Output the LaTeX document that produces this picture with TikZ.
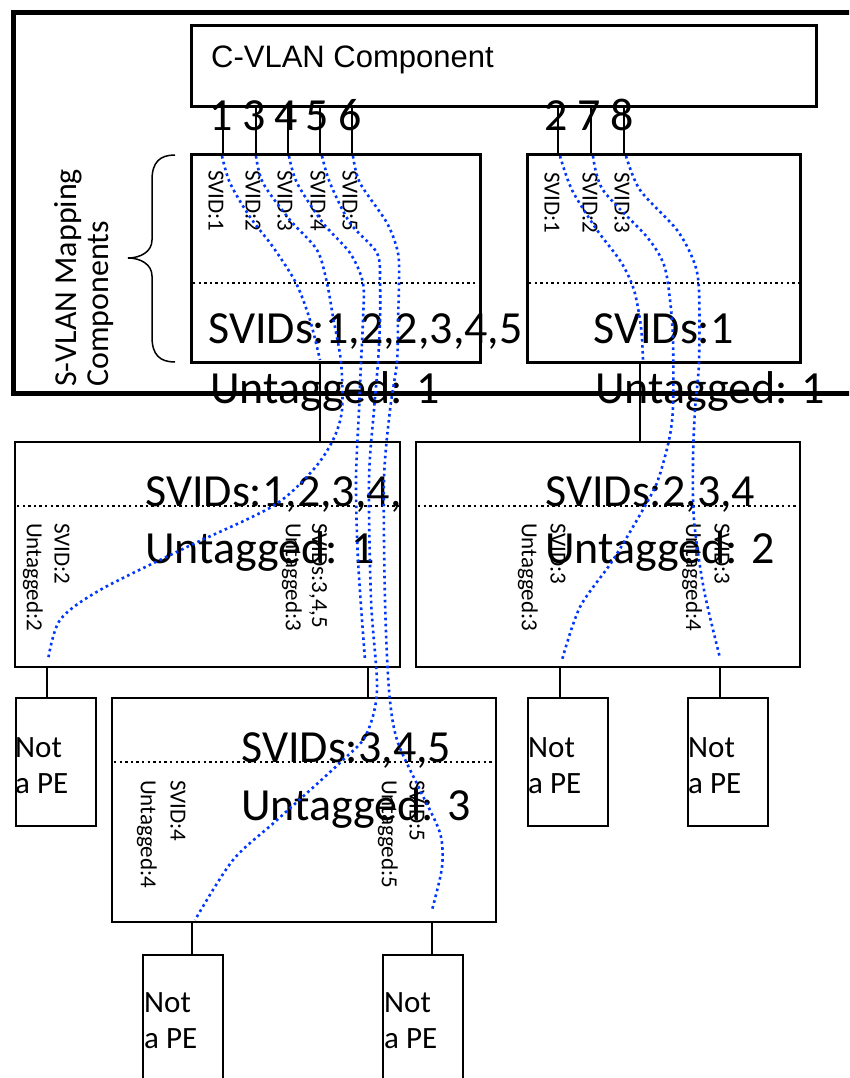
\documentclass[tikz,border=0pt]{standalone}
\usepackage{fontspec}
\setmainfont{Carlito}
\newfontfamily\arialf{Liberation Sans}
\definecolor{flowblue}{RGB}{0,55,255}
\begin{document}
\begin{tikzpicture}[x=1pt,y=-1pt,
  frame/.style={draw, rectangle, line width=#1, inner sep=0pt, outer sep=0pt},
  wire/.style={line width=2pt},
  sepline/.style={line width=2.4pt, dash pattern=on 2.4pt off 3.2pt},
  flow/.style={draw=flowblue, line width=2.6pt, dash pattern=on 2.6pt off 3.4pt},
  digit/.style={font=\fontsize{46}{46}\selectfont, anchor=base, inner sep=0pt},
  big/.style={font=\fontsize{46}{46}\selectfont, anchor=base west, inner sep=0pt},
  small/.style={font=\fontsize{23}{23}\selectfont, anchor=west, rotate=-90, inner sep=0pt},
  petext/.style={font=\fontsize{31}{31}\selectfont, anchor=base west, inner sep=0pt},
  side/.style={font=\fontsize{32}{32}\selectfont, anchor=base west, rotate=90, inner sep=0pt}]
\useasboundingbox (0,0) rectangle (849,1078);
\clip (0,0) rectangle (849,1078);
\fill[white] (0,0) rectangle (849,1078);

% boxes
\node[frame=5pt, minimum width=867pt, minimum height=380pt] (outer) at (446.5,203) {};
\node[frame=3pt, minimum width=625pt, minimum height=81pt] (cvlan) at (503.5,66.5) {};
\node[frame=3pt, minimum width=289pt, minimum height=207pt] (map1) at (335.5,258.5) {};
\node[frame=3pt, minimum width=273pt, minimum height=207pt] (map2) at (663.5,258.5) {};
\node[frame=2.5pt, minimum width=385pt, minimum height=225pt] (midL) at (207.5,554.5) {};
\node[frame=2.5pt, minimum width=384pt, minimum height=225pt] (midR) at (608,554.5) {};
\node[frame=2.5pt, minimum width=80pt, minimum height=128pt] (pe1) at (56,762) {};
\node[frame=2.5pt, minimum width=384pt, minimum height=224pt] (bot) at (304,810) {};
\node[frame=2.5pt, minimum width=80pt, minimum height=128pt] (pe2) at (568,762) {};
\node[frame=2.5pt, minimum width=80pt, minimum height=128pt] (pe3) at (728,762) {};
\node[frame=2.5pt, minimum width=80pt, minimum height=140pt] (pe4) at (183,1025) {};
\node[frame=2.5pt, minimum width=80pt, minimum height=140pt] (pe5) at (423,1025) {};

% dotted separators
\draw[sepline] (193,283) -- (478,283);
\draw[sepline] (529,283) -- (798,283);
\draw[sepline] (17,506) -- (398,506);
\draw[sepline] (418,506) -- (798,506);
\draw[sepline] (114,762) -- (494,762);

% port x positions
\foreach \n/\x in {a/223,b/256,c/288,d/320,e/352,f/558,g/591,h/624,
                   i/320,j/640,k/47,l/368,m/560,n/720,o/192,p/432}
  {\coordinate (x\n) at (\x,0);}

% connectors
\foreach \n in {a,b,c,d,e}{\draw[wire] (cvlan.south -| x\n) -- (map1.north -| x\n);}
\foreach \n in {f,g,h}{\draw[wire] (cvlan.south -| x\n) -- (map2.north -| x\n);}
\draw[wire] (map1.south -| xi) -- (midL.north -| xi);
\draw[wire] (map2.south -| xj) -- (midR.north -| xj);
\draw[wire] (midL.south -| xk) -- (pe1.north -| xk);
\draw[wire] (midL.south -| xl) -- (bot.north -| xl);
\draw[wire] (midR.south -| xm) -- (pe2.north -| xm);
\draw[wire] (midR.south -| xn) -- (pe3.north -| xn);
\draw[wire] (bot.south -| xo) -- (pe4.north -| xo);
\draw[wire] (bot.south -| xp) -- (pe5.north -| xp);

% brace
\draw[line width=1.5pt] (175,155) .. controls (160,155) and (152,162) .. (152,180)
  -- (152,240) .. controls (152,252) and (140,258) .. (128,258)
  .. controls (140,258) and (152,264) .. (152,276)
  -- (152,337) .. controls (152,355) and (160,362) .. (175,362);

% texts
\node[font=\arialf\fontsize{31}{31}\selectfont, anchor=base west, inner sep=0pt] (cvlant) at (211,68) {C-VLAN Component};
\node[digit] (d1) at (221,131) {1};
\node[digit] (d3) at (254,131) {3};
\node[digit] (d4) at (286,131) {4};
\node[digit] (d5) at (317,131) {5};
\node[digit] (d6) at (350,131) {6};
\node[digit] (d2) at (556,131) {2};
\node[digit] (d7) at (589,131) {7};
\node[digit] (d8) at (622,131) {8};

\node[side] (sv1) at (76,387) {S-VLAN Mapping};
\node[side] (sv2) at (108,387) {Components};

\node[small] (m1a) at (216,170) {SVID:1};
\node[small] (m1b) at (253,170) {SVID:2};
\node[small] (m1c) at (285,170) {SVID:3};
\node[small] (m1d) at (318,170) {SVID:4};
\node[small] (m1e) at (350,170) {SVID:5};
\node[small] (m2a) at (552,172) {SVID:1};
\node[small] (m2b) at (590,172) {SVID:2};
\node[small] (m2c) at (622,172) {SVID:3};

\node[big] (s1) at (208,343) {SVIDs:1,2,2,3,4,5};
\node[big] (s2) at (593,343) {SVIDs:1};
\node[big] (u1) at (210,403) {Untagged: 1};
\node[big] (u2) at (595,403) {Untagged: 1};

\node[big] (s3) at (145,506) {SVIDs:1,2,3,4,};
\node[big] (u3) at (145,563) {Untagged: 1};
\node[big] (s4) at (545,506) {SVIDs:2,3,4};
\node[big] (u4) at (545,563) {Untagged: 2};

\node[small] (l1) at (33,523) {Untagged:2};
\node[small] (l2) at (62,523) {SVID:2};
\node[small] (l3) at (292,523) {Untagged:3};
\node[small] (l4) at (318,523) {SVIDs:3,4,5};
\node[small] (r1) at (528,523) {Untagged:3};
\node[small] (r2) at (558,523) {SVID:3};
\node[small] (r3) at (692,523) {Untagged:4};
\node[small] (r4) at (722,523) {SVID:3};

\node[big] (s5) at (241,762) {SVIDs:3,4,5};
\node[big] (u5) at (241,820) {Untagged: 3};
\node[small] (b1) at (147,780) {Untagged:4};
\node[small] (b2) at (178,780) {SVID:4};
\node[small] (b3) at (388,780) {Untagged:5};
\node[small] (b4) at (417,780) {SVID:5};

\node[petext] (t1a) at (15,757) {Not};
\node[petext] (t1b) at (15,793) {a PE};
\node[petext] (t2a) at (528,757) {Not};
\node[petext] (t2b) at (528,793) {a PE};
\node[petext] (t3a) at (688,757) {Not};
\node[petext] (t3b) at (688,793) {a PE};
\node[petext] (t4a) at (144,1012) {Not};
\node[petext] (t4b) at (144,1048) {a PE};
\node[petext] (t5a) at (384,1012) {Not};
\node[petext] (t5b) at (384,1048) {a PE};

% blue flows
\draw[flow] plot[smooth] coordinates {(222,156) (230,183) (250,217) (273,247) (296,283) (310,320) (320,360)};
\draw[flow] plot[smooth] coordinates {(256,156) (263,183) (290,220) (317,250) (327,283) (333,317) (341,362) (342,410) (333,440) (313,470) (273,506) (187,547) (100,590) (60,620) (48,660)};
\draw[flow] plot[smooth] coordinates {(289,156) (297,183) (323,223) (350,253) (363,283) (363,320) (361,362) (359,410) (356,480) (358,560) (365,660)};
\draw[flow] plot[smooth] coordinates {(322,156) (330,183) (350,223) (377,253) (380,283) (380,320) (378,362) (374,410) (369,480) (371,600) (377,690) (366,735) (343,760) (277,820) (233,860) (195,920)};
\draw[flow] plot[smooth] coordinates {(353,156) (360,183) (387,223) (398,253) (399,283) (398,320) (397,362) (390,410) (384,480) (385,600) (389,690) (397,740) (420,790) (440,833) (442,867) (432,910)};
\draw[flow] plot[smooth] coordinates {(560,156) (572,190) (597,230) (621,262) (634,290) (641,327) (643,360)};
\draw[flow] plot[smooth] coordinates {(593,156) (603,190) (647,237) (664,265) (670,300) (673,340) (673,407) (669,440) (658,480) (645,506) (613,560) (580,607) (562,660)};
\draw[flow] plot[smooth] coordinates {(626,156) (640,190) (677,230) (694,262) (699,290) (699,362) (695,410) (693,460) (694,520) (704,590) (720,658)};
\end{tikzpicture}
\end{document}
